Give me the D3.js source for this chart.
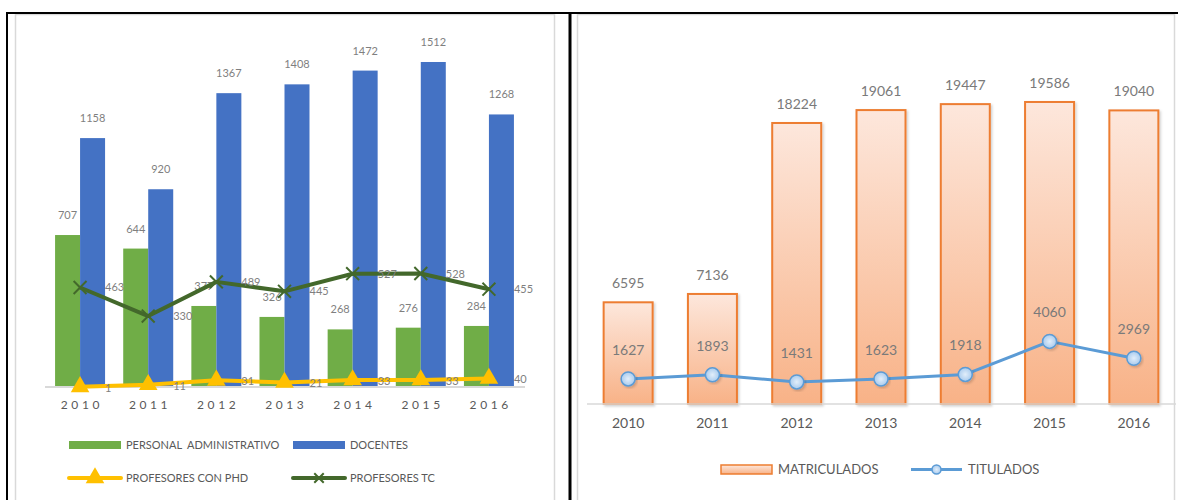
<!DOCTYPE html>
<html>
<head>
<meta charset="utf-8">
<script src="https://cdn.jsdelivr.net/npm/d3@7"></script>
<style>
  body { margin: 0; background: #fff; }
  svg { display: block; font-family: Lato, "Open Sans", sans-serif; }
</style>
</head>
<body>
<div class="charts"></div>
<script>
// ---- data (left chart) ----
const years = ['2010', '2011', '2012', '2013', '2014', '2015', '2016'];
const personalAdmin = [707, 644, 377, 326, 268, 276, 284];
const docentes = [1158, 920, 1367, 1408, 1472, 1512, 1268];
const profesoresPhd = [1, 11, 31, 21, 33, 33, 40];
const profesoresTc = [463, 330, 489, 445, 527, 528, 455];

// ---- data (right chart) ----
const matriculados = [6595, 7136, 18224, 19061, 19447, 19586, 19040];
const titulados = [1627, 1893, 1431, 1623, 1918, 4060, 2969];

const W = 1179, H = 500;

const svg = d3.select(".charts")
    .append("svg")
    .attr("width", W)
    .attr("height", H);

const defs = svg.append("defs");
const grad = defs.append("linearGradient")
    .attr("id", "matGrad").attr("x1", 0).attr("y1", 0).attr("x2", 0).attr("y2", 1);
grad.append("stop").attr("offset", "0%").attr("stop-color", "#fde7dc");
grad.append("stop").attr("offset", "100%").attr("stop-color", "#f8b287");

const dotGrad = defs.append("radialGradient").attr("id", "dotGrad");
dotGrad.append("stop").attr("offset", "0%").attr("stop-color", "#e2eefa");
dotGrad.append("stop").attr("offset", "100%").attr("stop-color", "#a9cbee");

const shadow = defs.append("filter").attr("id", "shadow")
    .attr("x", "-20%").attr("y", "-20%").attr("width", "140%").attr("height", "140%");
shadow.append("feDropShadow").attr("dx", 1.5).attr("dy", 1.5).attr("stdDeviation", 1.2)
    .attr("flood-color", "#000").attr("flood-opacity", 0.18);

// frames
svg.append("rect").attr("x", 15.5).attr("y", 14.5).attr("width", 539).attr("height", 500)
    .attr("fill", "none").attr("stroke", "#d9d9d9").attr("stroke-width", 1.5);
svg.append("rect").attr("x", 577.5).attr("y", 14.5).attr("width", 597).attr("height", 500)
    .attr("fill", "none").attr("stroke", "#d9d9d9").attr("stroke-width", 1.5);
svg.append("line").attr("x1", 6).attr("x2", 1178).attr("y1", 13).attr("y2", 13)
    .attr("stroke", "#000").attr("stroke-width", 2);
svg.append("line").attr("x1", 7).attr("x2", 7).attr("y1", 12).attr("y2", H)
    .attr("stroke", "#000").attr("stroke-width", 2);
svg.append("line").attr("x1", 570).attr("x2", 570).attr("y1", 12).attr("y2", H)
    .attr("stroke", "#000").attr("stroke-width", 3);

// ================= LEFT CHART =================
const left = svg.append("g").attr("class", "leftChart");

const x = d3.scaleBand().domain(years).range([46, 523]);
const xIn = d3.scaleBand().domain(["admin", "doc"]).range([0, 50]);
const y = d3.scaleLinear().domain([0, 1600]).range([387, 387 - 1600 * 0.21495]);
const cx = d => x(d) + x.bandwidth() / 2;

const leftData = years.map((yr, i) => ({
    year: yr, admin: personalAdmin[i], doc: docentes[i],
    phd: profesoresPhd[i], tc: profesoresTc[i]
}));

const groups = left.selectAll("g.year")
    .data(leftData)
    .join("g")
    .attr("class", "year")
    .attr("transform", d => `translate(${cx(d.year) - 25},0)`);

groups.append("rect")
    .attr("x", xIn("admin")).attr("width", xIn.bandwidth())
    .attr("y", d => y(d.admin)).attr("height", d => y(0) - y(d.admin))
    .attr("fill", "#70ad47");
groups.append("rect")
    .attr("x", xIn("doc")).attr("width", xIn.bandwidth())
    .attr("y", d => y(d.doc)).attr("height", d => y(0) - y(d.doc))
    .attr("fill", "#4472c4");

// axis line + year labels
const xAxisL = left.append("g").attr("transform", `translate(0,${y(0)})`)
    .call(d3.axisBottom(x).tickSize(0).tickPadding(13));
xAxisL.select(".domain").attr("stroke", "#d9d9d9").attr("stroke-width", 2)
    .attr("d", "M45,0H525");
xAxisL.selectAll("text")
    .attr("font-family", "Lato, sans-serif").attr("font-size", 12)
    .attr("fill", "#595959").attr("letter-spacing", "3.6px")
    .attr("dx", "1.8px");

// bar labels
groups.append("text")
    .attr("x", xIn("admin") + xIn.bandwidth() / 2).attr("y", d => y(d.admin) - 16)
    .attr("text-anchor", "middle").attr("font-size", 11).attr("fill", "#7f7f7f")
    .text(d => d.admin);
groups.append("text")
    .attr("x", xIn("doc") + xIn.bandwidth() / 2).attr("y", d => y(d.doc) - 16)
    .attr("text-anchor", "middle").attr("font-size", 11).attr("fill", "#7f7f7f")
    .text(d => d.doc);

// lines
const tcLine = d3.line().x(d => cx(d.year)).y(d => y(d.tc));
const phdLine = d3.line().x(d => cx(d.year)).y(d => y(d.phd));

left.append("path").datum(leftData).attr("d", tcLine)
    .attr("fill", "none").attr("stroke", "#43682b").attr("stroke-width", 4)
    .attr("stroke-linejoin", "round");
left.append("path").datum(leftData).attr("d", phdLine)
    .attr("fill", "none").attr("stroke", "#ffc000").attr("stroke-width", 4)
    .attr("stroke-linejoin", "round");

const xMark = d3.symbol().type(d3.symbolX).size(110);
const triMark = d3.symbol().type(d3.symbolTriangle).size(150);

left.selectAll("path.tcMark").data(leftData).join("path").attr("class", "tcMark")
    .attr("transform", d => `translate(${cx(d.year)},${y(d.tc)})`)
    .attr("d", xMark).attr("fill", "none").attr("stroke", "#43682b").attr("stroke-width", 2);
left.selectAll("path.phdMark").data(leftData).join("path").attr("class", "phdMark")
    .attr("transform", d => `translate(${cx(d.year)},${y(d.phd)})`)
    .attr("d", triMark).attr("fill", "#ffc000");

left.selectAll("text.tcLab").data(leftData).join("text").attr("class", "tcLab")
    .attr("x", d => cx(d.year) + 25).attr("y", d => y(d.tc) + 4)
    .attr("font-size", 11).attr("fill", "#7f7f7f").text(d => d.tc);
left.selectAll("text.phdLab").data(leftData).join("text").attr("class", "phdLab")
    .attr("x", d => cx(d.year) + 25).attr("y", d => y(d.phd) + 5)
    .attr("font-size", 11).attr("fill", "#7f7f7f").text(d => d.phd);

// legend (left)
const legL = left.append("g").attr("font-size", 11).attr("fill", "#595959");
legL.append("rect").attr("x", 69).attr("y", 441).attr("width", 52).attr("height", 8).attr("fill", "#70ad47");
legL.append("text").attr("x", 126).attr("y", 449).text("PERSONAL  ADMINISTRATIVO").attr("xml:space", "preserve").style("white-space", "pre");
legL.append("rect").attr("x", 293).attr("y", 441).attr("width", 52).attr("height", 8).attr("fill", "#4472c4");
legL.append("text").attr("x", 350).attr("y", 449).text("DOCENTES");

legL.append("line").attr("x1", 69).attr("x2", 121).attr("y1", 478).attr("y2", 478)
    .attr("stroke", "#ffc000").attr("stroke-width", 4).attr("stroke-linecap", "round");
legL.append("path").attr("transform", "translate(95,478)").attr("d", triMark).attr("fill", "#ffc000");
legL.append("text").attr("x", 126).attr("y", 482).text("PROFESORES CON PHD");
legL.append("line").attr("x1", 293).attr("x2", 345).attr("y1", 478).attr("y2", 478)
    .attr("stroke", "#43682b").attr("stroke-width", 4).attr("stroke-linecap", "round");
legL.append("path").attr("transform", "translate(319,478)").attr("d", d3.symbol().type(d3.symbolX).size(60))
    .attr("fill", "none").attr("stroke", "#43682b").attr("stroke-width", 2);
legL.append("text").attr("x", 350).attr("y", 482).text("PROFESORES TC");

// ================= RIGHT CHART =================
const right = svg.append("g").attr("class", "rightChart");

const x2 = d3.scaleBand().domain(years).range([586, 1176]);
const y2 = d3.scaleLinear().domain([0, 20000]).range([404, 404 - 20000 * 0.01542]);
const cx2 = d => x2(d) + x2.bandwidth() / 2;
const barW = 49;

const rightData = years.map((yr, i) => ({ year: yr, mat: matriculados[i], tit: titulados[i] }));

right.selectAll("rect.mat").data(rightData).join("rect").attr("class", "mat")
    .attr("x", d => cx2(d.year) - barW / 2).attr("width", barW)
    .attr("y", d => y2(d.mat)).attr("height", d => y2(0) - y2(d.mat))
    .attr("fill", "url(#matGrad)").attr("stroke", "#ed7d31").attr("stroke-width", 2)
    .attr("filter", "url(#shadow)");

const xAxisR = right.append("g").attr("transform", `translate(0,${y2(0)})`)
    .call(d3.axisBottom(x2).tickSize(0).tickPadding(14));
xAxisR.select(".domain").attr("stroke", "#d9d9d9").attr("stroke-width", 1.5)
    .attr("d", "M587,0H1176");
xAxisR.selectAll("text")
    .attr("font-family", "Lato, sans-serif").attr("font-size", 14).attr("fill", "#595959");

right.selectAll("text.matLab").data(rightData).join("text").attr("class", "matLab")
    .attr("x", d => cx2(d.year)).attr("y", d => y2(d.mat) - 14)
    .attr("text-anchor", "middle").attr("font-size", 14).attr("fill", "#7a7a7a")
    .text(d => d.mat);

const titLine = d3.line().x(d => cx2(d.year)).y(d => y2(d.tit));
right.append("path").datum(rightData).attr("d", titLine)
    .attr("fill", "none").attr("stroke", "#5b9bd5").attr("stroke-width", 3)
    .attr("stroke-linejoin", "round");
right.selectAll("circle.tit").data(rightData).join("circle").attr("class", "tit")
    .attr("cx", d => cx2(d.year)).attr("cy", d => y2(d.tit)).attr("r", 7)
    .attr("fill", "url(#dotGrad)").attr("stroke", "#5b9bd5").attr("stroke-width", 1.5)
    .attr("filter", "url(#shadow)");

right.selectAll("text.titLab").data(rightData).join("text").attr("class", "titLab")
    .attr("x", d => cx2(d.year)).attr("y", d => y2(d.tit) - 24)
    .attr("text-anchor", "middle").attr("font-size", 14).attr("fill", "#7a7a7a")
    .text(d => d.tit);

// legend (right)
const legR = right.append("g").attr("font-size", 13).attr("fill", "#595959");
legR.append("rect").attr("x", 721).attr("y", 465).attr("width", 51).attr("height", 9)
    .attr("fill", "url(#matGrad)").attr("stroke", "#ed7d31").attr("stroke-width", 1.5);
legR.append("text").attr("x", 778).attr("y", 474).text("MATRICULADOS");
legR.append("line").attr("x1", 911).attr("x2", 962).attr("y1", 469.5).attr("y2", 469.5)
    .attr("stroke", "#5b9bd5").attr("stroke-width", 3);
legR.append("circle").attr("cx", 936.5).attr("cy", 469.5).attr("r", 4.5)
    .attr("fill", "url(#dotGrad)").attr("stroke", "#5b9bd5").attr("stroke-width", 1.5);
legR.append("text").attr("x", 968).attr("y", 474).text("TITULADOS");
</script>
</body>
</html>
